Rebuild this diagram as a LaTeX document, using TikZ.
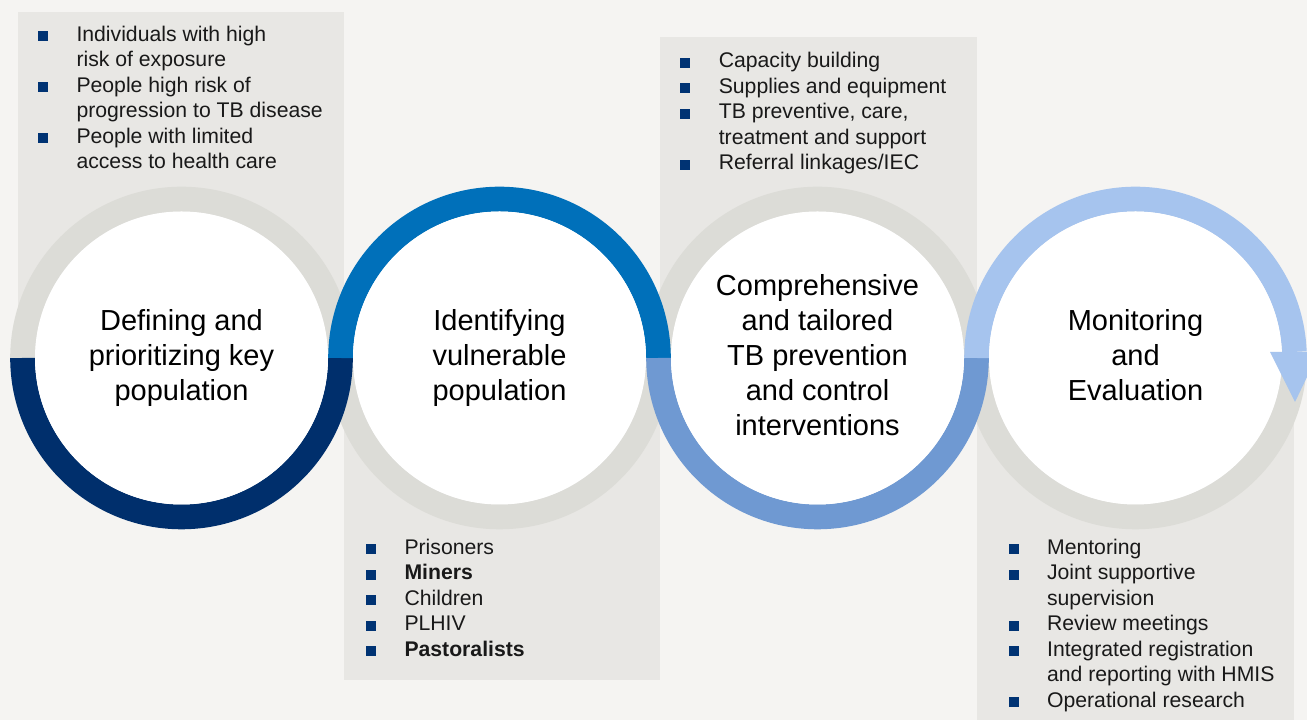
\documentclass[tikz,border=0pt]{standalone}
\usepackage{fontspec}
\setmainfont{Liberation Sans}
\usepackage{xcolor}
\usepackage{tikz}

\definecolor{bggray}{HTML}{F5F4F2}
\definecolor{panelgray}{HTML}{E8E7E4}
\definecolor{ringgray}{HTML}{DCDCD7}
\definecolor{navy}{HTML}{002F6C}
\definecolor{midblue}{HTML}{0070BA}
\definecolor{softblue}{HTML}{6F99D2}
\definecolor{paleblue}{HTML}{A6C4EE}
\definecolor{bulletnavy}{HTML}{003373}

\newcommand{\sqbul}{\textcolor{bulletnavy}{\rule{7.5pt}{7.5pt}}}

\tikzset{
  ring/.style={line width=18.6pt},
  hub/.style={circle, fill=white, minimum size=219.75pt, inner sep=0pt,
    align=center, font=\fontsize{21.75pt}{26.25pt}\selectfont},
  items/.style={anchor=base west, inner sep=0pt, text=black!90,
    font=\fontsize{15.9pt}{19.1pt}\selectfont}
}

\begin{document}
\begin{tikzpicture}[x=0.75pt,y=0.75pt]
\useasboundingbox (0,0) rectangle (1307,720);
\clip (0,0) rectangle (1307,720);
\fill[bggray] (0,0) rectangle (1307,720);
% draws panels
\fill[panelgray] (18,708) rectangle (343.5,362);
\fill[panelgray] (343.5,362) rectangle (660,39.5);
\fill[panelgray] (660,683.3) rectangle (977.3,362);
\fill[panelgray] (977.3,362) rectangle (1294.3,0);
% centres of the circles
\coordinate (p1) at (181.5,362);
\coordinate (p2) at (499.5,362);
\coordinate (p3) at (817.5,362);
\coordinate (p4) at (1135.5,362);
% grey halves of the rings
\draw[ring, ringgray] (p1) ++(0:158.9) arc[start angle=0, end angle=180, radius=158.9];
\draw[ring, ringgray] (p2) ++(180:158.9) arc[start angle=180, end angle=360, radius=158.9];
\draw[ring, ringgray] (p3) ++(0:158.9) arc[start angle=0, end angle=180, radius=158.9];
\draw[ring, ringgray] (p4) ++(180:158.9) arc[start angle=180, end angle=360, radius=158.9];
% coloured halves of the rings
\draw[ring, navy] (p1) ++(180:158.9) arc[start angle=180, end angle=360, radius=158.9];
\draw[ring, midblue] (p2) ++(0:158.9) arc[start angle=0, end angle=180, radius=158.9];
\draw[ring, softblue] (p3) ++(180:158.9) arc[start angle=180, end angle=360, radius=158.9];
\draw[ring, paleblue] (p4) ++(180:158.9) arc[start angle=180, end angle=2.2, radius=158.9];
% draws circles
\node[hub] (defining) at (p1) {Defining and\\prioritizing key\\population};
\node[hub] (identifying) at (p2) {Identifying\\vulnerable\\population};
\node[hub] (interventions) at (p3) {Comprehensive\\and tailored\\TB prevention\\and control\\interventions\vphantom{p}};
\node[hub] (monitoring) at (p4) {Monitoring\\and\\Evaluation\vphantom{p}};
% arrow head of the last ring
\fill[paleblue] (p4) ++(134.5,6) -- ++(49,0) -- ++(-24,-50) -- cycle;
% bullet lists
\node[items] (keylist) at (37.7,678.5) {\begin{tabular}[t]{@{}p{28.9pt}@{}l@{}}
\sqbul & Individuals with high\\
 & risk of exposure\\
\sqbul & People high risk of\\
 & progression to TB disease\\
\sqbul & People with limited\\
 & access to health care
\end{tabular}};
\node[items] (vulnlist) at (365.7,165.5) {\begin{tabular}[t]{@{}p{28.9pt}@{}l@{}}
\sqbul & Prisoners\\
\sqbul & \textbf{Miners}\\
\sqbul & Children\\
\sqbul & PLHIV\\
\sqbul & \textbf{Pastoralists}
\end{tabular}};
\node[items] (actionlist) at (680,652.2) {\begin{tabular}[t]{@{}p{28.9pt}@{}l@{}}
\sqbul & Capacity building\\
\sqbul & Supplies and equipment\\
\sqbul & TB preventive, care,\\
 & treatment and support\\
\sqbul & Referral linkages/IEC
\end{tabular}};
\node[items] (mandelist) at (1008.3,165.5) {\begin{tabular}[t]{@{}p{28.9pt}@{}l@{}}
\sqbul & Mentoring\\
\sqbul & Joint supportive\\
 & supervision\\
\sqbul & Review meetings\\
\sqbul & Integrated registration\\
 & and reporting with HMIS\\
\sqbul & Operational research
\end{tabular}};
\end{tikzpicture}
\end{document}
